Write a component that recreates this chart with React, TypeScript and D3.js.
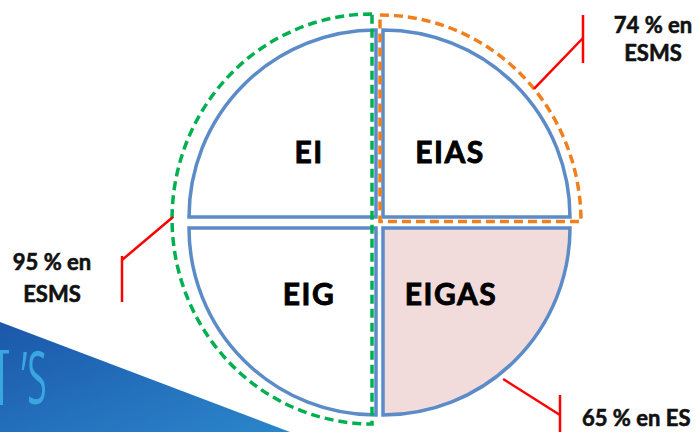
import React from "react";
import * as d3 from "d3";

// quadrants, clockwise from the top-right one
const quadrantLabels = ["EIAS", "EIGAS", "EIG", "EI"];
const quadrantFills = ["#ffffff", "#f2dcdb", "#ffffff", "#ffffff"];

// callout texts: top right (orange group), bottom right (EIGAS), left (green group)
const topRightLines = ["74 % en", "ESMS"];
const bottomRightLines = ["65 % en ES"];
const leftLines = ["95 % en", "ESMS"];

const W = 697;
const H = 432;

export default function App() {
  const R = 187;
  // quadrant corners (small gaps between the four slices)
  const xL = 376, xR = 383, yT = 217, yB = 228;
  const corners: [number, number][] = [
    [xR, yT],
    [xR, yB],
    [xL, yB],
    [xL, yT],
  ];
  const arc = d3.arc<number>()
    .innerRadius(0)
    .outerRadius(R)
    .startAngle((i) => (i * Math.PI) / 2)
    .endAngle((i) => ((i + 1) * Math.PI) / 2);

  // green dashed half (left half), orange dashed quarter (top right)
  const g = { x: 372, cy: 219, rx: 200, ry: 205 };
  const greenPath = `M${g.x},${g.cy - g.ry} A${g.rx},${g.ry} 0 0 0 ${g.x},${g.cy + g.ry} Z`;
  const o = { x: 380, y: 221.5, rx: 201, ry: 206.5 };
  const orangePath = `M${o.x},${o.y - o.ry} A${o.rx},${o.ry} 0 0 1 ${o.x + o.rx},${o.y} L${o.x},${o.y} Z`;

  // callout anchor points on the shapes
  const tOr = (40 * Math.PI) / 180;
  const pTR: [number, number] = [o.x + o.rx * Math.cos(tOr), o.y - o.ry * Math.sin(tOr)];
  const pL: [number, number] = [g.x - g.rx + 1, g.cy - 2];
  const tBr = (51.5 * Math.PI) / 180;
  const pBR: [number, number] = [xR + (R + 6) * Math.cos(tBr), yB + (R + 6) * Math.sin(tBr)];

  const red = "#ff0000";
  const blue = "#5b8cc8";
  const font = "Lato, 'Open Sans', sans-serif";

  const lineGen = d3.line();

  return (
    <svg width={W} height={H} viewBox={`0 0 ${W} ${H}`}
      style={{ position: "absolute", left: 0, top: 0, background: "#fff" }}>
      <defs>
        <linearGradient id="bg" x1="0" y1="0" x2="1" y2="1">
          <stop offset="0" stopColor="#1b57aa" />
          <stop offset="1" stopColor="#2b86cb" />
        </linearGradient>
      </defs>

      {/* background corner of the slide, with a fragment of a logo */}
      <path d={lineGen([[0, 322], [290, H], [0, H]]) + "Z"} fill="url(#bg)" />
      <g fill="#3aa6e0">
        <rect x={0} y={350} width={9} height={3.5} />
        <rect x={0} y={350} width={3} height={55} />
        <text x={34} y={404} fontFamily="'Open Sans', sans-serif" fontWeight={400}
          fontSize={74} transform="translate(34,0) scale(0.48,1) translate(-34,0)"
          textAnchor="middle">’S</text>
      </g>

      {/* quadrants */}
      {quadrantLabels.map((lab, i) => (
        <path key={lab} d={arc(i) || ""} transform={`translate(${corners[i][0]},${corners[i][1]})`}
          fill={quadrantFills[i]} stroke={blue} strokeWidth={3.5} strokeLinejoin="miter" />
      ))}

      {/* dashed groups */}
      <path d={greenPath} fill="none" stroke="#00b050" strokeWidth={3.5} strokeDasharray="9,5" />
      <path d={orangePath} fill="none" stroke="#f07f1e" strokeWidth={3.5} strokeDasharray="9,5" />

      {/* labels inside quadrants */}
      {[[450, 163], [451, 305], [309, 305], [309, 163]].map((p, i) => (
        <text key={quadrantLabels[i]} x={p[0]} y={p[1]} textAnchor="middle" fontFamily={font}
          fontWeight={700} fontSize={30} fill="#000" stroke="#000" strokeWidth={0.9}
          style={{ letterSpacing: "1.5px" }}>{quadrantLabels[i]}</text>
      ))}

      {/* callouts */}
      <g stroke={red} strokeWidth={2.5} fill="none">
        <path d={lineGen([pTR, [583, 38]]) || ""} />
        <path d={lineGen([[583, 15], [583, 63]]) || ""} />
        <path d={lineGen([pL, [122, 260]]) || ""} />
        <path d={lineGen([[122, 256], [122, 302]]) || ""} />
        <path d={lineGen([pBR, [560, 415]]) || ""} />
        <path d={lineGen([[560, 395], [560, 440]]) || ""} />
      </g>

      <g fontFamily={font} fontWeight={700} fontSize={22} fill="#111" stroke="#111" strokeWidth={0.6}>
        {topRightLines.map((t, i) => (
          <text key={"tr" + i} x={653} y={33 + i * 28} textAnchor="middle">{t}</text>
        ))}
        {leftLines.map((t, i) => (
          <text key={"l" + i} x={52} y={270 + i * 32} textAnchor="middle">{t}</text>
        ))}
        {bottomRightLines.map((t, i) => (
          <text key={"br" + i} x={582} y={426} textAnchor="start">{t}</text>
        ))}
      </g>
    </svg>
  );
}
